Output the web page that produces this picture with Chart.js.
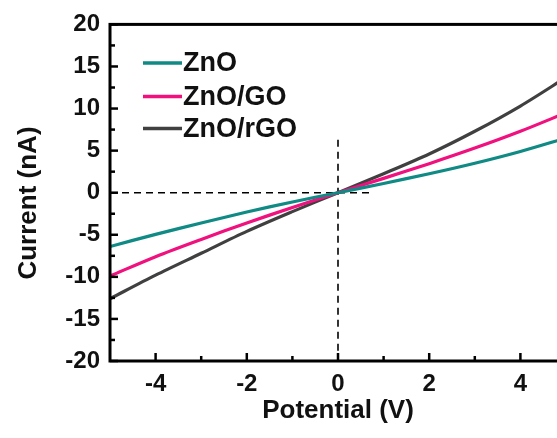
<!DOCTYPE html>
<html>
<head>
<meta charset="utf-8">
<script src="https://cdn.jsdelivr.net/npm/chart.js@4"></script>
<style>
  html, body { margin: 0; padding: 0; background: #fff; overflow: hidden; }
  #wrap { width: 580px; height: 438px; }
</style>
</head>
<body>
<div id="wrap"><canvas id="chart" width="580" height="438"></canvas></div>
<script>
// ============ Data ============
const potential = [-5, -4, -3, -2, -1, 0, 1, 2, 3, 4, 5];
const currentZnO = [-6.4, -4.95, -3.6, -2.3, -1.1, 0, 1.1, 2.25, 3.5, 4.9, 6.5];
const currentZnOGO = [-9.9, -7.6, -5.55, -3.6, -1.75, 0, 1.7, 3.45, 5.3, 7.3, 9.5];
const currentZnOrGO = [-12.6, -9.8, -7.2, -4.6, -2.25, 0, 2.25, 4.6, 7.3, 10.3, 13.7];

const seriesLabels = ['ZnO', 'ZnO/GO', 'ZnO/rGO'];

const xMajorTicks = [-4, -2, 0, 2, 4];
const xMinorTicks = [-3, -1, 1, 3];
const yMajorTicks = [-20, -15, -10, -5, 0, 5, 10, 15, 20];
const yMinorTicks = [-17.5, -12.5, -7.5, -2.5, 2.5, 7.5, 12.5, 17.5];

// dashed guide lines through the origin
const hGuideX = [-5, 0.7];
const hGuideY = [0, 0];
const vGuideX = [0, 0];
const vGuideY = [6.3, -20];

const COLORS = { zno: '#0f8a84', go: '#f0107e', rgo: '#404040' };
const FONT_FAMILY = "'Liberation Sans', Arial, Helvetica, sans-serif";

function toPoints(xs, ys) {
  return xs.map((x, i) => ({ x, y: ys[i] }));
}

// ============ Plugins ============
const framePlugin = {
  id: 'frame',
  afterDatasetsDraw(chart) {
    const { ctx, chartArea: a, scales: { x, y } } = chart;
    ctx.save();
    ctx.strokeStyle = '#000';
    ctx.lineWidth = 3;
    ctx.strokeRect(a.left, a.top, a.right - a.left, a.bottom - a.top);

    ctx.lineWidth = 2.5;
    const tick = (x1, y1, x2, y2) => {
      ctx.beginPath(); ctx.moveTo(x1, y1); ctx.lineTo(x2, y2); ctx.stroke();
    };
    xMajorTicks.forEach(v => { const px = x.getPixelForValue(v); tick(px, a.bottom, px, a.bottom - 8); });
    xMinorTicks.forEach(v => { const px = x.getPixelForValue(v); tick(px, a.bottom, px, a.bottom - 5); });
    yMajorTicks.forEach(v => { const py = y.getPixelForValue(v); tick(a.left, py, a.left + 8, py); });
    yMinorTicks.forEach(v => { const py = y.getPixelForValue(v); tick(a.left, py, a.left + 5, py); });

    // y axis title
    ctx.fillStyle = '#111';
    ctx.font = 'bold 26px ' + FONT_FAMILY;
    ctx.textAlign = 'center';
    ctx.textBaseline = 'middle';
    ctx.translate(29, 203);
    ctx.rotate(-Math.PI / 2);
    ctx.fillText('Current (nA)', 0, 0);
    ctx.restore();
  }
};

const legendPlugin = {
  id: 'insideLegend',
  afterDraw(chart) {
    const { ctx } = chart;
    const rowsY = [63, 96.5, 128.5];
    ctx.save();
    ctx.font = 'bold 27px ' + FONT_FAMILY;
    ctx.textBaseline = 'middle';
    ctx.textAlign = 'left';
    seriesLabels.forEach((label, i) => {
      const ds = chart.data.datasets[i];
      ctx.strokeStyle = ds.borderColor;
      ctx.lineWidth = 3.5;
      ctx.beginPath();
      ctx.moveTo(143, rowsY[i]);
      ctx.lineTo(182, rowsY[i]);
      ctx.stroke();
      ctx.fillStyle = '#111';
      ctx.fillText(label, 183, rowsY[i] + 1);
    });
    ctx.restore();
  }
};

// ============ Chart ============
const lineStyle = { borderWidth: 3.2, pointRadius: 0, fill: false, tension: 0.3 };
const guideStyle = { borderColor: '#000', borderWidth: 1.6, borderDash: [7, 5], pointRadius: 0, fill: false };

new Chart(document.getElementById('chart').getContext('2d'), {
  type: 'line',
  data: {
    datasets: [
      { label: seriesLabels[0], data: toPoints(potential, currentZnO), borderColor: COLORS.zno, ...lineStyle },
      { label: seriesLabels[1], data: toPoints(potential, currentZnOGO), borderColor: COLORS.go, ...lineStyle },
      { label: seriesLabels[2], data: toPoints(potential, currentZnOrGO), borderColor: COLORS.rgo, ...lineStyle },
      { label: 'h', data: toPoints(hGuideX, hGuideY), ...guideStyle },
      { label: 'v', data: toPoints(vGuideX, vGuideY), ...guideStyle },
    ],
  },
  options: {
    responsive: false,
    animation: false,
    devicePixelRatio: 1,
    layout: { padding: { top: 22, right: 14, bottom: 0, left: 0 } },
    plugins: { legend: { display: false }, tooltip: { enabled: false } },
    scales: {
      x: {
        type: 'linear',
        min: -5, max: 5,
        grid: { display: false, drawTicks: false },
        border: { display: false },
        afterBuildTicks: s => { s.ticks = xMajorTicks.map(v => ({ value: v })); },
        afterFit: s => { s.height = 77; },
        ticks: {
          color: '#111', padding: 9, maxRotation: 0,
          font: { family: FONT_FAMILY, size: 24, weight: 'bold' },
        },
        title: {
          display: true, text: 'Potential (V)', color: '#111',
          font: { family: FONT_FAMILY, size: 26, weight: 'bold' },
          padding: { top: 0, bottom: 12 },
        },
      },
      y: {
        type: 'linear',
        min: -20, max: 20,
        grid: { display: false, drawTicks: false },
        border: { display: false },
        afterBuildTicks: s => { s.ticks = yMajorTicks.map(v => ({ value: v })); },
        afterFit: s => { s.width = 110; },
        ticks: {
          color: '#111', padding: 10,
          font: { family: FONT_FAMILY, size: 24, weight: 'bold' },
        },
      },
    },
  },
  plugins: [framePlugin, legendPlugin],
});
</script>
</body>
</html>
